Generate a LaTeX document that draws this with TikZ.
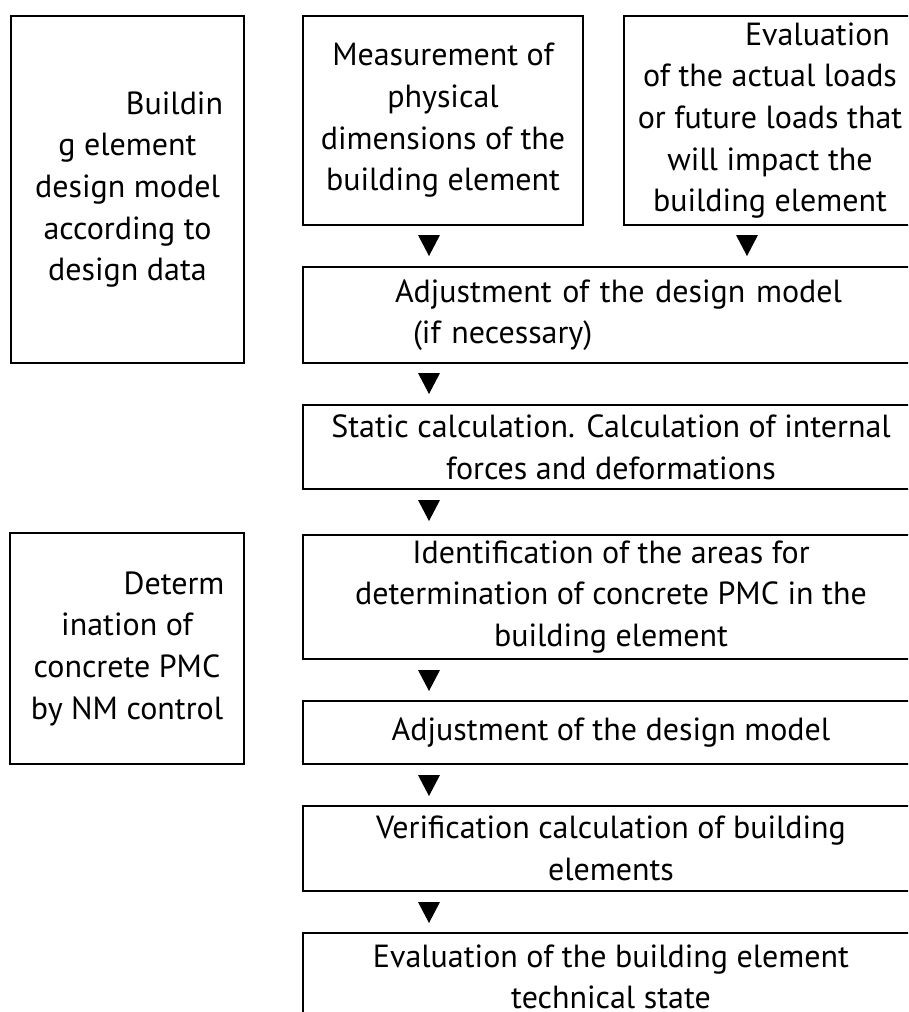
\documentclass[tikz,border=0pt]{standalone}
\usepackage{fontspec}
\setmainfont{PT Sans}
\begin{document}
\begin{tikzpicture}[x=1pt,y=-1pt,
  box/.style={draw=black, line width=1.6pt, rectangle, inner sep=0pt, align=center,
    font=\fontsize{32}{41.7}\selectfont},
  tri/.style={fill=black}
]
\useasboundingbox (0,0) rectangle (908,1012);
\fill[white] (0,0) rectangle (908,1012);
\clip (0,0) rectangle (908,1012);

\node[box, minimum width=233pt, minimum height=347pt] (b1) at (127.5,189.5)
  {\hspace*{94pt}Buildin\\g element\\design model\\according to\\design data};
\node[box, minimum width=280pt, minimum height=209pt] (b2) at (443,120.5)
  {Measurement of\\physical\\dimensions of the\\building element};
\node[box, minimum width=292pt, minimum height=209pt] (b3) at (770,120.5)
  {\hspace*{95pt}Evaluation\\of the actual loads\\or future loads that\\will impact the\\building element};
\node[box, align=left, text width=616pt, minimum height=96pt] (b4) at (611,315)
  {\hspace*{92pt}Adjustment of the design model\\\hspace*{110pt}(if necessary)};
\node[box, minimum width=616pt, minimum height=84pt] (b5) at (611,447)
  {Static calculation. Calculation of internal\\forces and deformations};
\node[box, minimum width=616pt, minimum height=124pt] (b6) at (611,597)
  {Identification of the areas for\\determination of concrete PMC in the\\building element};
\node[box, minimum width=234pt, minimum height=231pt] (l2) at (127,648.5)
  {\hspace*{94pt}Determ\\ination of\\concrete PMC\\by NM control};
\node[box, minimum width=616pt, minimum height=63pt] (b7) at (611,732.5)
  {Adjustment of the design model};
\node[box, minimum width=616pt, minimum height=85pt] (b8) at (611,848.5)
  {Verification calculation of building\\elements};
\node[box, minimum width=616pt, minimum height=88pt] (b9) at (611,977)
  {Evaluation of the building element\\technical state};

\foreach \n/\x/\y in {t1/429/235, t2/747/235, t3/429/373, t4/429/500, t5/429/670, t6/429/775, t7/429/902}{
  \coordinate (\n) at (\x,\y);
  \fill[tri] (\n) ++(-11,0) -- ++(22,0) -- ++(-11,21) -- cycle;
}
\end{tikzpicture}
\end{document}
